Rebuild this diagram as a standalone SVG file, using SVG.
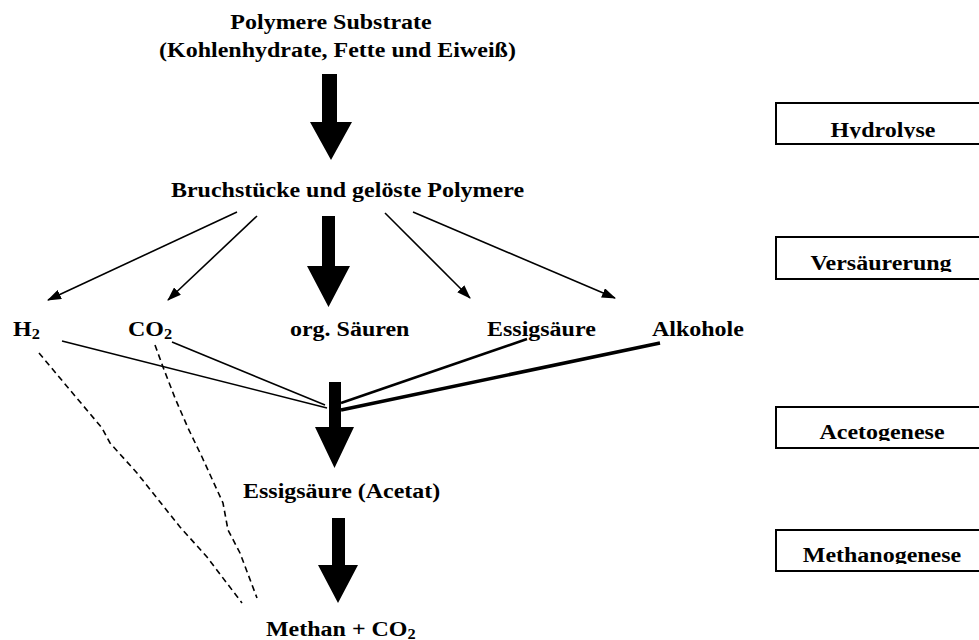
<svg xmlns="http://www.w3.org/2000/svg" width="979" height="640" viewBox="0 0 979 640">
<style>
.t{font-family:"Liberation Serif","Times New Roman",serif;font-weight:bold;font-size:22px;fill:#000}
.m{text-anchor:middle}
.sub{font-size:15px}
.box{fill:#fff;stroke:#000;stroke-width:2}
.thin{stroke:#000;stroke-width:1.6;fill:none}
.dash{stroke:#000;stroke-width:1.6;fill:none;stroke-dasharray:6 4}
.big{fill:#000}
</style>
<defs>
<marker id="ah" markerWidth="14" markerHeight="10" refX="13" refY="5" orient="auto" markerUnits="userSpaceOnUse">
<path d="M0,0 L14,5 L0,10 Z" fill="#000"/>
</marker>
<clipPath id="c1"><rect x="777" y="104" width="210" height="34.5"/></clipPath>
<clipPath id="c2"><rect x="777" y="238" width="210" height="34"/></clipPath>
<clipPath id="c3"><rect x="777" y="408" width="210" height="33"/></clipPath>
<clipPath id="c4"><rect x="777" y="531" width="210" height="33"/></clipPath>
</defs>

<g id="connectors">
<polygon class="big" points="322,74 337,74 337,122 352,122 331,160 310,122 322,122"/>
<line class="thin" x1="237" y1="212" x2="48" y2="300" marker-end="url(#ah)"/>
<line class="thin" x1="257" y1="216" x2="168" y2="300" marker-end="url(#ah)"/>
<polygon class="big" points="322,216 335,216 335,266 350,266 328.5,307 307,266 322,266"/>
<line class="thin" x1="385" y1="213" x2="470" y2="298" marker-end="url(#ah)"/>
<line class="thin" x1="413" y1="212" x2="615" y2="298" marker-end="url(#ah)"/>
<polygon class="big" points="329,382 341,382 341,427 354,427 334.5,468 315,427 329,427"/>
<line class="thin" x1="62" y1="341" x2="327" y2="408"/>
<line class="thin" x1="172" y1="342" x2="325" y2="405"/>
<line stroke="#000" stroke-width="2.6" x1="527" y1="339" x2="341" y2="403"/>
<line stroke="#000" stroke-width="3.6" x1="660" y1="343" x2="341" y2="410"/>
<polygon class="big" points="332,518 345,518 345,565 358,565 338,603 318,565 332,565"/>
<polyline class="dash" points="39,353 70,390 102,428 110,443 137,473 180,527 207,557 242,603"/>
<polyline class="dash" points="155,345 163,367 175,398 188,428 202,457 223,503 228,530 240,553 257,598"/>
</g>

<g id="n-polymere">
<text class="t m" transform="translate(331,29) scale(1.09,1)">Polymere Substrate</text>
<text class="t m" transform="translate(337.5,57) scale(1.09,1)">(Kohlenhydrate, Fette und Eiweiß)</text>
</g>
<g id="n-bruchstuecke">
<text class="t m" transform="translate(347.5,197) scale(1.09,1)">Bruchstücke und gelöste Polymere</text>
</g>
<g id="n-h2"><text class="t" transform="translate(13,336) scale(1.09,1)">H<tspan class="sub" dy="3">2</tspan></text></g>
<g id="n-co2"><text class="t" transform="translate(128,336) scale(1.09,1)">CO<tspan class="sub" dy="3">2</tspan></text></g>
<g id="n-orgsaeuren"><text class="t" transform="translate(290,336) scale(1.09,1)">org. Säuren</text></g>
<g id="n-essigsaeure"><text class="t" transform="translate(487,336) scale(1.09,1)">Essigsäure</text></g>
<g id="n-alkohole"><text class="t" transform="translate(652,336) scale(1.09,1)">Alkohole</text></g>
<g id="n-acetat"><text class="t" transform="translate(243,498) scale(1.09,1)">Essigsäure (Acetat)</text></g>
<g id="n-methan"><text class="t" transform="translate(266,636) scale(1.09,1)">Methan + CO<tspan class="sub" dy="3">2</tspan></text></g>

<g id="b-hydrolyse">
<rect class="box" x="776" y="103" width="212" height="41"/>
<g clip-path="url(#c1)"><text class="t m" transform="translate(883,137) scale(1.09,1)">Hydrolyse</text></g>
</g>
<g id="b-versaeuerung">
<rect class="box" x="776" y="237" width="212" height="42"/>
<g clip-path="url(#c2)"><text class="t m" transform="translate(881,269.5) scale(1.09,1)">Versäurerung</text></g>
</g>
<g id="b-acetogenese">
<rect class="box" x="776" y="407" width="212" height="41"/>
<g clip-path="url(#c3)"><text class="t m" transform="translate(882,438.5) scale(1.09,1)">Acetogenese</text></g>
</g>
<g id="b-methanogenese">
<rect class="box" x="776" y="530" width="212" height="41"/>
<g clip-path="url(#c4)"><text class="t m" transform="translate(882,562) scale(1.09,1)">Methanogenese</text></g>
</g>
</svg>
